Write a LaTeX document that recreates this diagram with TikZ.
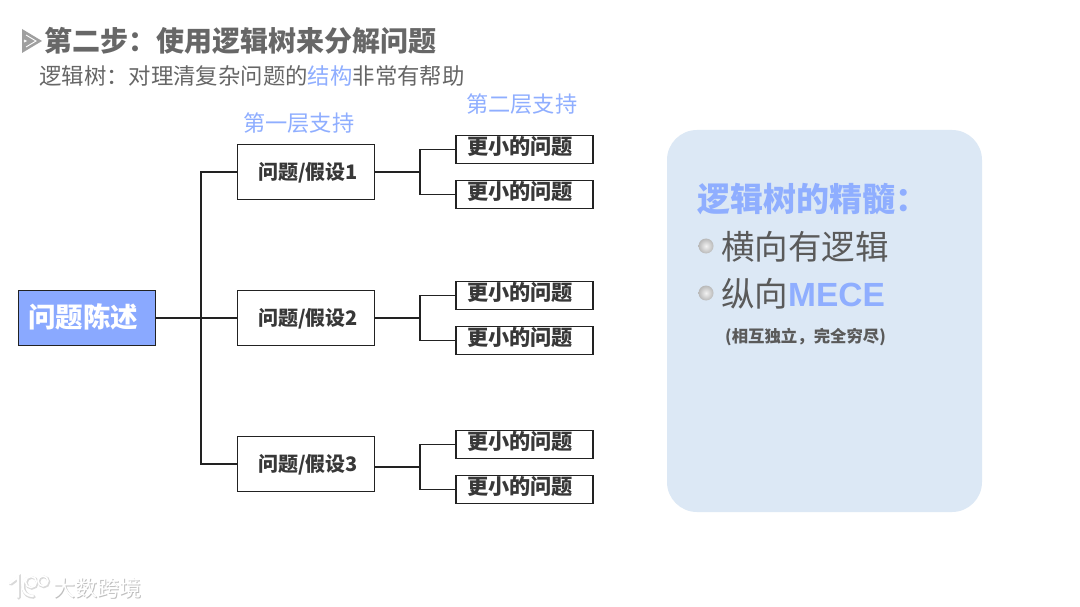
\documentclass[tikz,border=0pt]{standalone}
\usepackage{fontspec}
\setmainfont{Noto Sans CJK SC}
\newfontfamily\latinbold{Liberation Sans}
\usetikzlibrary{shadings}
\definecolor{tgray}{HTML}{5A5A5A}
\definecolor{sgray}{HTML}{666666}
\definecolor{accent}{HTML}{8FAEFF}
\definecolor{rootfill}{HTML}{8AA9FF}
\definecolor{panelfill}{HTML}{DCE8F5}
\definecolor{linecol}{HTML}{222222}
\tikzset{
  x=1pt,y=-1pt,
  txt/.style={inner sep=0pt,anchor=west,font=\fontsize{#1}{#1}\selectfont},
  boxa/.style={draw=linecol,line width=1.8pt,minimum width=137pt,minimum height=55pt,inner sep=0pt,fill=white},
  boxb/.style={draw=linecol,line width=1.8pt,minimum width=137pt,minimum height=28pt,inner sep=0pt,fill=white},
  conn/.style={draw=linecol,line width=1.5pt},
  bullet/.style={circle,minimum size=15pt,inner sep=0pt,inner color=gray!10,outer color=gray!55,draw=none},
  lab/.style={inner sep=0pt,font=\bfseries\fontsize{20}{20}\selectfont,text=linecol!90},
}
\begin{document}
\begin{tikzpicture}
\useasboundingbox[fill=white] (0,0) rectangle (1080,607);
% title icon
\fill[gray!75] (22,29) -- (42,41) -- (22,53) -- cycle;
\draw[white,line width=0.9pt] (26,35) -- (36,41) -- (26,47);
\draw[white,line width=0.9pt] (24,40) -- (26,41) -- (24,42);
\node[txt=28,text=tgray!92,font=\bfseries\fontsize{28}{28}\selectfont] (title) at (44,41) {第二步：使用逻辑树来分解问题};
\node[txt=22.4,text=sgray] (sub) at (39,76) {逻辑树：对理清复杂问题的\textcolor{accent}{结构}非常有帮助};
\node[txt=22.2,text=accent] (l1) at (243,123.5) {第一层支持};
\node[txt=22.2,text=accent] (l2) at (466,104.5) {第二层支持};
% tree nodes
\node[boxa,fill=rootfill,minimum width=137pt] (root) at (87,318) {};
\node[inner sep=0pt,text=white,font=\bfseries\fontsize{27.5}{27.5}\selectfont] (roott) at (83,317) {问题陈述};
\node[boxa] (a) at (306,172) {};
\node[boxa] (b) at (306,318) {};
\node[boxa] (c) at (306,464) {};
\node[lab] (at) at (308,173) {问题/假设1};
\node[lab] (bt) at (308,319) {问题/假设2};
\node[lab] (ct) at (308,465) {问题/假设3};
\foreach \n/\y in {a1/149.5,a2/194.5,b1/295.5,b2/340.5,c1/444.5,c2/489.5}{
  \node[boxb] (\n) at (524.5,\y) {};
  \node[lab,font=\bfseries\fontsize{21.2}{21}\selectfont] (\n t) at (520,\y-3) {更小的问题};
}
% connectors
\coordinate (t) at (201,318);
\coordinate (ha) at (420,172);
\coordinate (hb) at (420,318);
\coordinate (hc) at (420,467);
\draw[conn] (root.east) -- (b.west);
\draw[conn] (t) |- (a.west);
\draw[conn] (t) |- (c.west);
\draw[conn] (a.east) -- (ha);
\draw[conn] (b.east) -- (hb);
\draw[conn] (375,467) -- (hc);
\draw[conn] (ha) |- (a1.west);
\draw[conn] (ha) |- (a2.west);
\draw[conn] (hb) |- (b1.west);
\draw[conn] (hb) |- (b2.west);
\draw[conn] (hc) |- (c1.west);
\draw[conn] (hc) |- (c2.west);
% panel
\fill[panelfill,rounded corners=30pt] (667,130) rectangle (982,512);
\node[txt=33,text=accent,font=\bfseries\fontsize{33}{33}\selectfont] (p1) at (697,199) {逻辑树的精髓：};
\node[bullet] (b1dot) at (706,246) {};
\node[txt=33.5,text=tgray] (p2) at (721,247) {横向有逻辑};
\node[bullet] (b2dot) at (706,293) {};
\node[txt=33.5,text=tgray] (p3) at (721,294) {纵向{\latinbold\bfseries\textcolor{accent}{MECE}}};
\node[txt=16,text=tgray,font=\bfseries\fontsize{16.4}{16.4}\selectfont] (p4) at (725,337) {(相互独立，完全穷尽)};
% watermark
\begin{scope}[line cap=round]
\foreach \col/\dx/\dy/\w in {gray!30/0.9/0.9/3.8,white/0/0/2.2}{
\begin{scope}[shift={(\dx,\dy)}]
\draw[\col,line width=\w pt] (10,583) -- (18,577) -- (18,597);
\draw[\col,line width=\w pt] (26,578) .. controls (20,584) and (22,596) .. (33,596);
\draw[\col,line width=0.7*\w pt] (31,582) circle[radius=5.5];
\draw[\col,line width=0.7*\w pt] (43,581) circle[radius=5];
\end{scope}}
\end{scope}
\node[txt=22,text=gray!50] (wms) at (53.9,588.9) {大数跨境};
\node[txt=22,text=white] (wm) at (53,588) {大数跨境};
\end{tikzpicture}
\end{document}
